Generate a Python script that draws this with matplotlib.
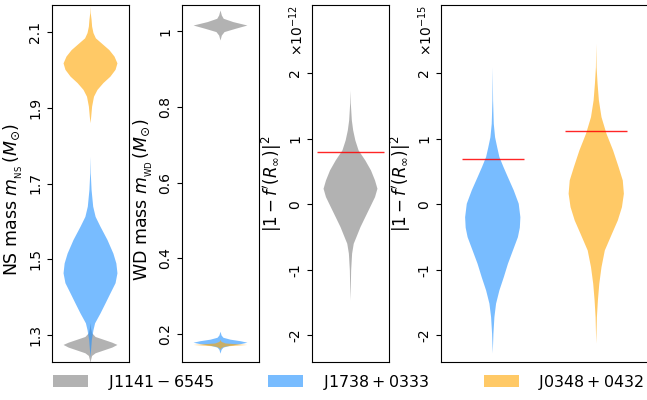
import matplotlib
matplotlib.use("Agg")
import matplotlib.pyplot as plt
from matplotlib.patches import Patch

plt.rcParams['axes.unicode_minus'] = False

# ---------------- data ----------------
pulsars = [r'$\mathrm{J1141-6545}$', r'$\mathrm{J1738+0333}$', r'$\mathrm{J0348+0432}$']
colors = ['gray', 'dodgerblue', 'orange']

# Panel 1: NS mass violin profiles (y value, relative half-width)
ns_j1141_y = [1.332, 1.318, 1.305, 1.295, 1.287, 1.280, 1.274, 1.267, 1.260, 1.252, 1.245, 1.234, 1.226]
ns_j1141_w = [0, 0.02, 0.06, 0.19, 0.52, 0.81, 1.0, 0.81, 0.52, 0.19, 0.06, 0.02, 0]
ns_j1738_y = [1.771, 1.727, 1.683, 1.639, 1.612, 1.586, 1.551, 1.515, 1.489, 1.463, 1.437,
              1.410, 1.384, 1.357, 1.331, 1.313, 1.287, 1.260, 1.242]
ns_j1738_w = [0, 0.01, 0.04, 0.10, 0.19, 0.37, 0.63, 0.85, 0.96, 1.0, 0.93,
              0.74, 0.56, 0.37, 0.17, 0.11, 0.05, 0.02, 0]
ns_j0348_y = [2.167, 2.149, 2.132, 2.114, 2.097, 2.083, 2.070, 2.052, 2.035, 2.017, 2.000,
              1.982, 1.965, 1.947, 1.929, 1.903, 1.876, 1.859]
ns_j0348_w = [0, 0.01, 0.04, 0.06, 0.11, 0.20, 0.41, 0.70, 0.89, 1.0, 0.93,
              0.74, 0.48, 0.26, 0.13, 0.06, 0.026, 0]

# Panel 2: WD mass violin profiles
wd_j1141_y = [1.0546, 1.0413, 1.0326, 1.0238, 1.0148, 1.0061, 0.9974, 0.9883, 0.9751]
wd_j1141_w = [0, 0.05, 0.12, 0.48, 1.0, 0.56, 0.15, 0.05, 0]
wd_j1738_y = [0.206, 0.196, 0.190, 0.185, 0.181, 0.177, 0.173, 0.169, 0.164, 0.158, 0.148]
wd_j1738_w = [0, 0.04, 0.11, 0.37, 0.74, 1.0, 0.74, 0.37, 0.11, 0.04, 0]
wd_j0348_y = [0.184, 0.179, 0.175, 0.173, 0.171, 0.169, 0.167, 0.163, 0.158]
wd_j0348_w = [0, 0.04, 0.19, 0.56, 1.0, 0.56, 0.19, 0.04, 0]

# Panel 3: |1 - f'(R_inf)|^2 for J1141-6545 (units of 1e-12)
f_j1141_y = [1.736, 1.537, 1.278, 1.125, 0.973, 0.820, 0.667, 0.515, 0.362, 0.235, 0.107,
             -0.046, -0.198, -0.351, -0.504, -0.605, -0.756, -1.012, -1.267, -1.47]
f_j1141_w = [0, 0.012, 0.05, 0.10, 0.18, 0.30, 0.55, 0.76, 0.91, 1.0, 0.91,
             0.73, 0.55, 0.37, 0.22, 0.12, 0.06, 0.024, 0.012, 0]
f_j1141_bound = 0.79

# Panel 4: |1 - f'(R_inf)|^2 for J1738+0333 and J0348+0432 (units of 1e-15)
f_j1738_y = [2.09, 1.58, 1.227, 1.02, 0.87, 0.72, 0.565, 0.41, 0.21, 0.006, -0.2, -0.36,
             -0.504, -0.707, -0.91, -1.115, -1.318, -1.52, -1.725, -1.98, -2.28]
f_j1738_w = [0, 0.012, 0.037, 0.085, 0.16, 0.24, 0.39, 0.55, 0.76, 0.94, 1.0, 0.98,
             0.91, 0.73, 0.55, 0.40, 0.24, 0.12, 0.06, 0.024, 0]
f_j0348_y = [2.449, 2.09, 1.838, 1.583, 1.328, 1.075, 0.82, 0.565, 0.362, 0.159, -0.046,
             -0.249, -0.452, -0.707, -0.962, -1.215, -1.47, -1.725, -2.13]
f_j0348_w = [0, 0.012, 0.048, 0.096, 0.19, 0.37, 0.61, 0.81, 0.96, 1.0, 0.93,
             0.78, 0.57, 0.31, 0.19, 0.11, 0.06, 0.024, 0]
f_bounds_p4 = [0.69, 1.11]

ns_ticks = [1.3, 1.5, 1.7, 1.9, 2.1]
ns_ticklabels = ['1.3', '1.5', '1.7', '1.9', '2.1']
wd_ticks = [0.2, 0.4, 0.6, 0.8, 1.0]
wd_ticklabels = ['0.2', '0.4', '0.6', '0.8', '1']
f_ticks = [-2, -1, 0, 1, 2]
f_ticklabels = ['-2', '-1', '0', '1', '2']


def stats(y, w):
    return dict(coords=y, vals=w, mean=0, median=0, min=min(y), max=max(y))


def draw(ax, profiles, cols, positions, width):
    parts = ax.violin([stats(y, w) for y, w in profiles], positions=positions,
                      widths=width, showextrema=False)
    for body, c in zip(parts['bodies'], cols):
        body.set_facecolor(c)
        body.set_edgecolor('none')
        body.set_alpha(0.6)


W, H = 647, 400
fig = plt.figure(figsize=(W / 100, H / 100), dpi=100)
bot = 1 - 362 / H
hgt = (362 - 5) / H
ax1 = fig.add_axes([52 / W, bot, 77 / W, hgt])
ax2 = fig.add_axes([182 / W, bot, 77 / W, hgt])
ax3 = fig.add_axes([312 / W, bot, 77 / W, hgt])
ax4 = fig.add_axes([441 / W, bot, 207 / W, hgt])

draw(ax1, [(ns_j1141_y, ns_j1141_w), (ns_j1738_y, ns_j1738_w), (ns_j0348_y, ns_j0348_w)],
     colors, [1, 1, 1], 0.70)
ax1.set_ylim(1.229, 2.171)
ax1.set_yticks(ns_ticks)
ax1.set_yticklabels(ns_ticklabels)
ax1.set_ylabel(r'NS mass $m_{_{\rm NS}}\,(M_{\odot})$', fontsize=12.5)

draw(ax2, [(wd_j1141_y, wd_j1141_w), (wd_j1738_y, wd_j1738_w), (wd_j0348_y, wd_j0348_w)],
     colors, [1, 1, 1], 0.70)
ax2.set_ylim(0.126, 1.069)
ax2.set_yticks(wd_ticks)
ax2.set_yticklabels(wd_ticklabels)
ax2.set_ylabel(r'WD mass $m_{_{\rm WD}}\,(M_{\odot})$', fontsize=12.5)

draw(ax3, [(f_j1141_y, f_j1141_w)], [colors[0]], [1], 0.70)
ax3.hlines(f_j1141_bound, 0.57, 1.43, color='red', lw=1.0, alpha=0.85)
ax3.set_ylim(-2.41, 3.04)
ax3.set_yticks(f_ticks)
ax3.set_yticklabels(f_ticklabels)
ax3.set_ylabel(r"$|1-f'(R_{\infty})|^2$", fontsize=12)
ax3.text(-0.2, 1.0, r'$\times10^{-12}$', transform=ax3.transAxes, rotation=90,
         ha='center', va='top', fontsize=10)

draw(ax4, [(f_j1738_y, f_j1738_w), (f_j0348_y, f_j0348_w)], colors[1:], [1, 2], 0.534)
for x, b in zip([1, 2], f_bounds_p4):
    ax4.hlines(b, x - 0.3, x + 0.3, color='red', lw=1.0, alpha=0.85)
ax4.set_ylim(-2.41, 3.04)
ax4.set_yticks(f_ticks)
ax4.set_yticklabels(f_ticklabels)
ax4.set_ylabel(r"$|1-f'(R_{\infty})|^2$", fontsize=12)
ax4.text(-0.075, 1.0, r'$\times10^{-15}$', transform=ax4.transAxes, rotation=90,
         ha='center', va='top', fontsize=10)

for ax in (ax1, ax2):
    ax.yaxis.set_label_coords(-27 / 77, 0.455)
ax3.yaxis.set_label_coords(-28 / 77, 0.5)
for ax in (ax1, ax2, ax3):
    ax.set_xlim(0.5, 1.5)
ax4.set_xlim(0.5, 2.5)
ax4.yaxis.set_label_coords(-28 / 207, 0.5)
for ax in (ax1, ax2, ax3, ax4):
    ax.set_xticks([])
    ax.tick_params(axis='y', labelrotation=90, labelsize=10)
    for lab in ax.get_yticklabels():
        lab.set_va('center')

handles = [Patch(facecolor=c, alpha=0.6, edgecolor='none') for c in colors]
fig.legend(handles, pulsars, loc='center left', bbox_to_anchor=(53 / W, 1 - 382 / H),
           ncol=3, frameon=False, fontsize=11.4, borderpad=0, borderaxespad=0,
           handlelength=2.21, handleheight=0.73, handletextpad=1.25, columnspacing=3.42)

fig.savefig('out.png', dpi=100)
